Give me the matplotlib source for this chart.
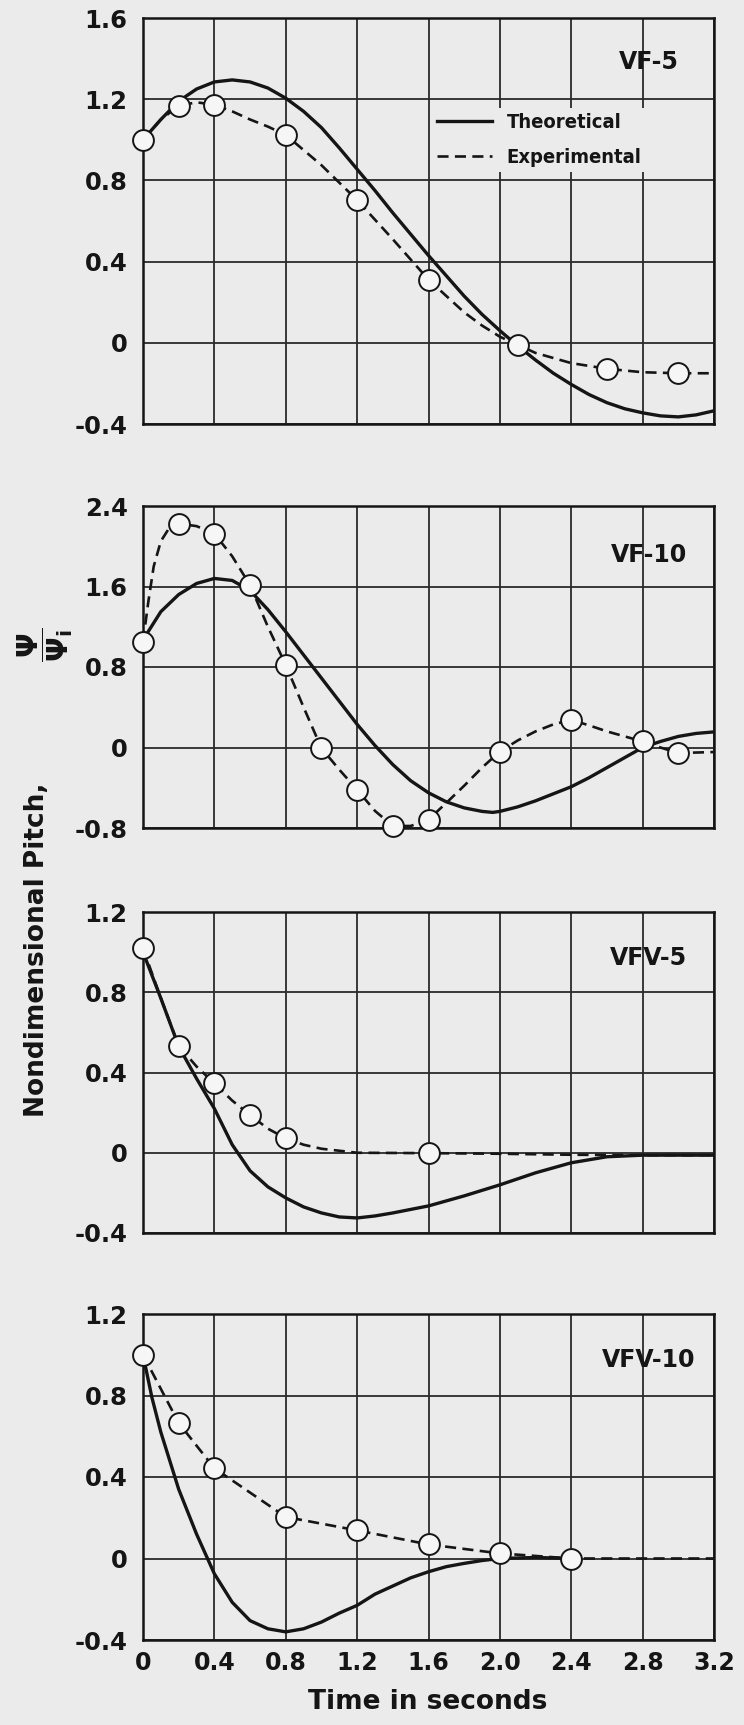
import matplotlib
matplotlib.use("Agg")
import matplotlib.pyplot as plt
from matplotlib.lines import Line2D

plt.rcParams["font.family"] = ["DejaVu Sans"]
plt.rcParams["mathtext.fontset"] = "dejavusans"

# ---------------- data ----------------
time_ticks = [0, 0.4, 0.8, 1.2, 1.6, 2.0, 2.4, 2.8, 3.2]
time_tick_labels = ["0", "0.4", "0.8", "1.2", "1.6", "2.0", "2.4", "2.8", "3.2"]

# VF-5
vf5_theory_t = [0, 0.1, 0.2, 0.3, 0.4, 0.5, 0.6, 0.7, 0.8, 0.9, 1.0, 1.1, 1.2, 1.3, 1.4, 1.5,
                1.6, 1.7, 1.8, 1.9, 2.0, 2.1, 2.2, 2.3, 2.4, 2.5, 2.6, 2.7, 2.8, 2.9, 3.0, 3.1, 3.2]
vf5_theory_v = [1.0, 1.1, 1.19, 1.25, 1.285, 1.295, 1.285, 1.255, 1.205, 1.14, 1.06, 0.96, 0.855,
                0.75, 0.64, 0.535, 0.43, 0.33, 0.23, 0.14, 0.06, -0.015, -0.085, -0.15, -0.205,
                -0.255, -0.295, -0.325, -0.345, -0.36, -0.365, -0.355, -0.335]
vf5_exp_t = [0, 0.1, 0.2, 0.3, 0.4, 0.5, 0.6, 0.7, 0.8, 1.0, 1.2, 1.4, 1.6, 1.8, 1.9, 2.0, 2.1,
             2.2, 2.4, 2.6, 2.8, 3.0, 3.2]
vf5_exp_v = [1.0, 1.1, 1.167, 1.185, 1.172, 1.14, 1.1, 1.065, 1.024, 0.875, 0.703, 0.51, 0.311,
             0.15, 0.085, 0.03, -0.01, -0.05, -0.1, -0.128, -0.145, -0.15, -0.15]
vf5_pts_t = [0, 0.2, 0.4, 0.8, 1.2, 1.6, 2.1, 2.6, 3.0]
vf5_pts_v = [1.0, 1.167, 1.172, 1.024, 0.703, 0.311, -0.01, -0.128, -0.15]

# VF-10
vf10_theory_t = [0, 0.1, 0.2, 0.3, 0.4, 0.5, 0.6, 0.7, 0.8, 0.9, 1.0, 1.1, 1.2, 1.3, 1.4, 1.5,
                 1.6, 1.7, 1.8, 1.9, 1.96, 2.0, 2.1, 2.2, 2.3, 2.4, 2.5, 2.6, 2.7, 2.8, 2.9, 3.0,
                 3.1, 3.2]
vf10_theory_v = [1.07, 1.35, 1.52, 1.63, 1.68, 1.66, 1.56, 1.37, 1.15, 0.92, 0.69, 0.46, 0.23,
                 0.02, -0.17, -0.33, -0.45, -0.54, -0.6, -0.635, -0.645, -0.635, -0.59, -0.53,
                 -0.46, -0.39, -0.3, -0.2, -0.1, 0.0, 0.06, 0.11, 0.14, 0.155]
vf10_exp_t = [0, 0.03, 0.06, 0.1, 0.15, 0.2, 0.3, 0.4, 0.5, 0.6, 0.7, 0.8, 0.9, 1.0, 1.1, 1.2,
              1.3, 1.4, 1.5, 1.6, 1.7, 1.8, 1.9, 2.0, 2.1, 2.2, 2.3, 2.4, 2.5, 2.6, 2.7, 2.8,
              2.9, 3.0, 3.1, 3.2]
vf10_exp_v = [1.05, 1.45, 1.8, 2.05, 2.19, 2.225, 2.2, 2.126, 1.9, 1.613, 1.2, 0.82, 0.4, -0.007,
              -0.22, -0.42, -0.63, -0.78, -0.78, -0.717, -0.55, -0.38, -0.2, -0.04, 0.07, 0.16,
              0.23, 0.274, 0.22, 0.16, 0.11, 0.06, 0.0, -0.056, -0.05, -0.045]
vf10_pts_t = [0, 0.2, 0.4, 0.6, 0.8, 1.0, 1.2, 1.4, 1.6, 2.0, 2.4, 2.8, 3.0]
vf10_pts_v = [1.05, 2.225, 2.126, 1.613, 0.82, -0.007, -0.42, -0.78, -0.717, -0.04, 0.274, 0.06,
              -0.056]

# VFV-5
vfv5_theory_t = [0, 0.1, 0.2, 0.3, 0.4, 0.5, 0.6, 0.7, 0.8, 0.9, 1.0, 1.1, 1.2, 1.3, 1.4, 1.6,
                 1.8, 2.0, 2.2, 2.4, 2.6, 2.8, 3.0, 3.2]
vfv5_theory_v = [1.0, 0.77, 0.53, 0.37, 0.22, 0.04, -0.09, -0.17, -0.225, -0.27, -0.3, -0.32,
                 -0.325, -0.315, -0.3, -0.265, -0.215, -0.16, -0.1, -0.05, -0.02, -0.012, -0.012,
                 -0.012]
vfv5_exp_t = [0, 0.1, 0.2, 0.3, 0.4, 0.5, 0.6, 0.7, 0.8, 0.9, 1.0, 1.2, 1.6, 2.0, 2.4, 2.8, 3.2]
vfv5_exp_v = [1.02, 0.77, 0.533, 0.43, 0.346, 0.26, 0.188, 0.12, 0.072, 0.04, 0.02, 0.0, -0.002,
              -0.005, -0.01, -0.012, -0.012]
vfv5_pts_t = [0, 0.2, 0.4, 0.6, 0.8, 1.6]
vfv5_pts_v = [1.02, 0.533, 0.346, 0.188, 0.072, -0.002]

# VFV-10
vfv10_theory_t = [0, 0.05, 0.1, 0.2, 0.3, 0.4, 0.5, 0.6, 0.7, 0.8, 0.9, 1.0, 1.1, 1.2, 1.3, 1.4,
                  1.5, 1.6, 1.7, 1.8, 1.9, 2.0, 2.2, 2.4]
vfv10_theory_v = [1.0, 0.79, 0.62, 0.34, 0.12, -0.075, -0.215, -0.305, -0.345, -0.36, -0.345,
                  -0.312, -0.268, -0.23, -0.175, -0.135, -0.095, -0.065, -0.04, -0.024, -0.01,
                  0.0, 0.005, 0.0]
vfv10_exp_t = [0, 0.2, 0.4, 0.8, 1.2, 1.6, 2.0, 2.4, 2.8, 3.2]
vfv10_exp_v = [1.0, 0.665, 0.443, 0.204, 0.138, 0.069, 0.025, 0.0, 0.0, 0.0]
vfv10_pts_t = [0, 0.2, 0.4, 0.8, 1.2, 1.6, 2.0, 2.4]
vfv10_pts_v = [1.0, 0.665, 0.443, 0.204, 0.138, 0.069, 0.025, 0.0]

panel_names = ["VF-5", "VF-10", "VFV-5", "VFV-10"]
panel_yticks = [
    [-0.4, 0, 0.4, 0.8, 1.2, 1.6],
    [-0.8, 0, 0.8, 1.6, 2.4],
    [-0.4, 0, 0.4, 0.8, 1.2],
    [-0.4, 0, 0.4, 0.8, 1.2],
]
panel_ytick_labels = [
    ["-0.4", "0", "0.4", "0.8", "1.2", "1.6"],
    ["-0.8", "0", "0.8", "1.6", "2.4"],
    ["-0.4", "0", "0.4", "0.8", "1.2"],
    ["-0.4", "0", "0.4", "0.8", "1.2"],
]
series = [
    (vf5_theory_t, vf5_theory_v, vf5_exp_t, vf5_exp_v, vf5_pts_t, vf5_pts_v),
    (vf10_theory_t, vf10_theory_v, vf10_exp_t, vf10_exp_v, vf10_pts_t, vf10_pts_v),
    (vfv5_theory_t, vfv5_theory_v, vfv5_exp_t, vfv5_exp_v, vfv5_pts_t, vfv5_pts_v),
    (vfv10_theory_t, vfv10_theory_v, vfv10_exp_t, vfv10_exp_v, vfv10_pts_t, vfv10_pts_v),
]

# ---------------- style ----------------
paper = "#ebebeb"
ink = "#151515"
grid_ink = "#2a2a2a"
dash = (0, (4.2, 2.4))

W, H = 744, 1725
fig = plt.figure(figsize=(W / 100, H / 100), dpi=100, facecolor=paper)

# axes boxes in pixel rows (top, bottom)
left_px, right_px = 143, 714
rows_px = [(18, 424), (506, 828), (912, 1233), (1314, 1640)]
label_pos = [0.892, 0.848, 0.857, 0.859]

axes = []
for i, (top, bot) in enumerate(rows_px):
    ax = fig.add_axes([left_px / W, 1 - bot / H, (right_px - left_px) / W, (bot - top) / H])
    ax.set_facecolor(paper)
    yt = panel_yticks[i]
    ax.set_xlim(0, 3.2)
    ax.set_ylim(yt[0], yt[-1])
    ax.set_xticks(time_ticks)
    ax.set_yticks(yt)
    ax.set_yticklabels(panel_ytick_labels[i], fontsize=17.5, fontweight="bold", color=ink)
    if i == 3:
        ax.set_xticklabels(time_tick_labels, fontsize=17, fontweight="bold", color=ink)
    else:
        ax.set_xticklabels([])
    ax.tick_params(length=0, pad=11)
    ax.tick_params(axis="x", pad=8)
    ax.grid(True, color=grid_ink, linewidth=1.3)
    ax.set_axisbelow(True)
    for sp in ax.spines.values():
        sp.set_color(ink)
        sp.set_linewidth(1.8)

    tt, tv, et, ev, pt, pv = series[i]
    ax.plot(tt, tv, color=ink, linewidth=2.4, solid_capstyle="butt", zorder=3)
    ax.plot(et, ev, color=ink, linewidth=1.9, linestyle=dash, zorder=3)
    ax.plot(pt, pv, linestyle="none", marker="o", markersize=15, markerfacecolor="#f6f6f6",
            markeredgecolor=ink, markeredgewidth=1.4, zorder=4, clip_on=False)

    ax.text(0.886, label_pos[i], panel_names[i], transform=ax.transAxes, ha="center",
            va="center", fontsize=17, fontweight="bold", color=ink, zorder=5)
    axes.append(ax)

# legend in the first panel
handles = [
    Line2D([], [], color=ink, linewidth=2.4),
    Line2D([], [], color=ink, linewidth=1.9, linestyle=dash),
]
leg = axes[0].legend(handles, ["Theoretical", "Experimental"], loc="upper left",
                     bbox_to_anchor=(0.506, 0.778), borderaxespad=0, frameon=True,
                     facecolor=paper, edgecolor="none", framealpha=1, fancybox=False,
                     handlelength=2.75, handletextpad=0.7, borderpad=0.25, labelspacing=0.8,
                     prop={"size": 14.5, "weight": "bold", "stretch": "condensed"})
leg.set_zorder(6)
for txt in leg.get_texts():
    txt.set_color(ink)

fig.text(0.575, 0.0133, "Time in seconds", ha="center", va="center", fontsize=19,
         fontweight="bold", color=ink)
# vertical axis title: words plus the ratio psi / psi_i
fig.text(37 / W, 1 - 1117 / H, "Nondimensional Pitch,", rotation=90, ha="center",
         va="bottom", fontsize=19, fontweight="bold", color=ink)
fig.text(45 / W, 1 - 645 / H, r"$\dfrac{\mathbf{\Psi}}{\mathbf{\Psi}_{\mathbf{i}}}$",
         rotation=90, ha="center", va="center", fontsize=21, color=ink)

fig.savefig("out.png", dpi=100, facecolor=paper)
